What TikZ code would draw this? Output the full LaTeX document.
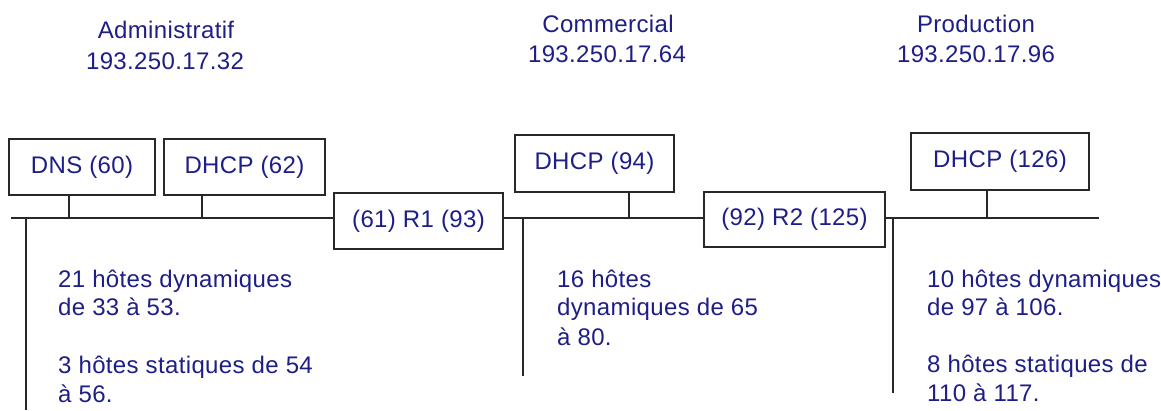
\documentclass[tikz,border=0pt]{standalone}
\usepackage{fontspec}
\setmainfont{Liberation Sans}[LetterSpace=1.5]
\definecolor{txtblue}{RGB}{30,30,135}
\definecolor{linegray}{RGB}{40,40,40}
\begin{document}
\begin{tikzpicture}[x=1pt,y=-1pt,
  every node/.style={font=\fontsize{24}{29}\selectfont, text=txtblue, inner sep=0pt},
  hostbox/.style={draw=linegray, line width=1.5pt, rectangle},
  wire/.style={draw=linegray, line width=1.5pt},
  lbl/.style={anchor=base west},
  ttl/.style={anchor=base}]
\useasboundingbox (0,0) rectangle (1161,410);
\fill[white] (0,0) rectangle (1161,410);

% titles
\node[ttl] (t1a) at (166,38) {Administratif};
\node[ttl] (t1b) at (165,69) {193.250.17.32};
\node[ttl] (t2a) at (608,32) {Commercial};
\node[ttl] (t2b) at (607,62) {193.250.17.64};
\node[ttl] (t3a) at (976,32) {Production};
\node[ttl] (t3b) at (976,62) {193.250.17.96};

% boxes
\node[hostbox, minimum width=146, minimum height=56] (dns) at (82,167) {DNS (60)};
\node[hostbox, minimum width=161, minimum height=56] (dhcpA) at (244.5,167) {DHCP (62)};
\node[hostbox, minimum width=169, minimum height=56] (r1) at (418.5,221) {(61) R1 (93)};
\node[hostbox, minimum width=159, minimum height=57] (dhcpB) at (594.5,163.5) {DHCP (94)};
\node[hostbox, minimum width=181, minimum height=55] (r2) at (794.5,219.5) {(92) R2 (125)};
\node[hostbox, minimum width=178, minimum height=57] (dhcpC) at (1000,161.5) {DHCP (126)};

% bus coordinates
\coordinate (b1s) at (11,218);
\coordinate (b3e) at (1099,218);
\coordinate (dA) at (69,218);
\coordinate (dB) at (202,218);
\coordinate (dC) at (629,218);
\coordinate (dD) at (987,218);
\coordinate (vA) at (26,218);
\coordinate (vAe) at (26,410);
\coordinate (vB) at (523,218);
\coordinate (vBe) at (523,376);
\coordinate (vC) at (893,218);
\coordinate (vCe) at (893,393);

% buses
\draw[wire] (b1s) -- (r1.west |- b1s);
\draw[wire] (r1.east |- b1s) -- (r2.west |- b1s);
\draw[wire] (r2.east |- b1s) -- (b3e);

% drops
\draw[wire] (dns.south -| dA) -- (dA);
\draw[wire] (dhcpA.south -| dB) -- (dB);
\draw[wire] (dhcpB.south -| dC) -- (dC);
\draw[wire] (dhcpC.south -| dD) -- (dD);

% host lines
\draw[wire] (vA) -- (vAe);
\draw[wire] (vB) -- (vBe);
\draw[wire] (vC) -- (vCe);

% host texts
\node[lbl] (a1) at (58,287) {21 hôtes dynamiques};
\node[lbl] (a2) at (58,315) {de 33 à 53.};
\node[lbl] (a3) at (58,373) {3 hôtes statiques de 54};
\node[lbl] (a4) at (58,402) {à 56.};

\node[lbl] (b1) at (557,287) {16 hôtes};
\node[lbl] (b2) at (557,315) {dynamiques de 65};
\node[lbl] (b3) at (557,345) {à 80.};

\node[lbl] (c1) at (927,287) {10 hôtes dynamiques};
\node[lbl] (c2) at (927,315) {de 97 à 106.};
\node[lbl] (c3) at (927,372) {8 hôtes statiques de};
\node[lbl] (c4) at (927,401) {110 à 117.};
\end{tikzpicture}
\end{document}
